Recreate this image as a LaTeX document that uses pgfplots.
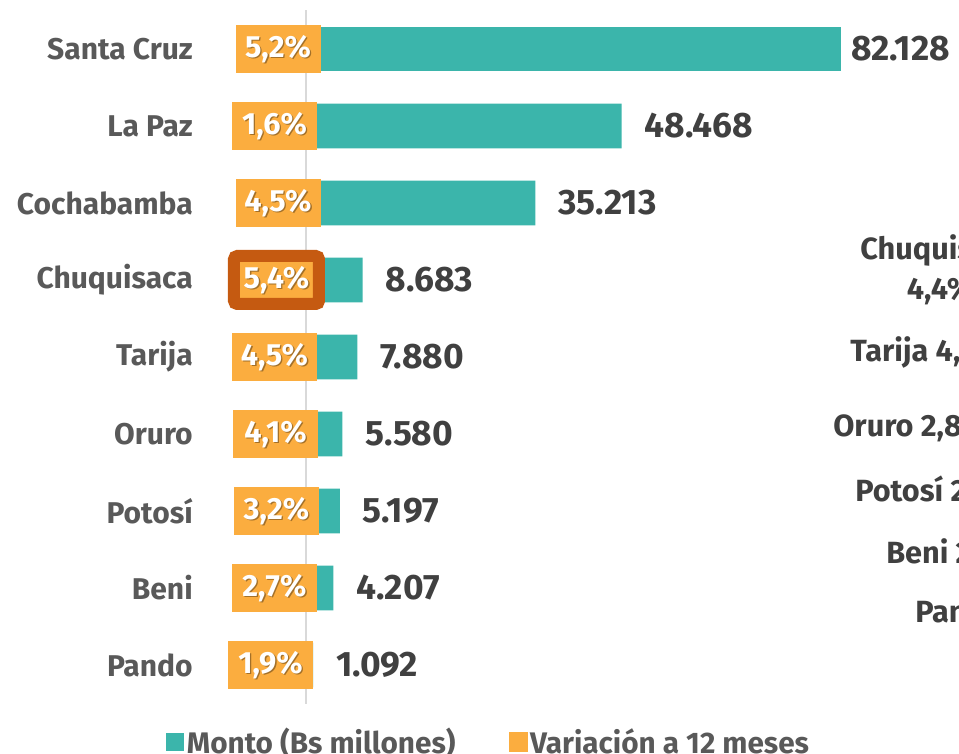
\documentclass[border=0pt]{standalone}
\usepackage{fontspec}
\setmainfont{Fira Sans}
\usepackage{pgfplots}
\pgfplotsset{compat=1.18}
\definecolor{teal1}{HTML}{3BB5AB}
\definecolor{orng}{HTML}{FBAD3F}
\definecolor{dorng}{HTML}{C55A11}
\definecolor{valtxt}{HTML}{404040}
\definecolor{cattxt}{HTML}{595959}
\definecolor{gridc}{HTML}{D9D9D9}
\pgfplotstableread{
v y l
1092 0 1.092
4207 1 4.207
5197 2 5.197
5580 3 5.580
7880 4 7.880
8683 5 8.683
35213 6 35.213
48468 7 48.468
}\montoA
\pgfplotstableread{
v y l
82128 8 82.128
}\montoB
\pgfplotstableread{
x y l
-5450 0 1,9\%
-4836 1 2,7\%
-4529 2 3,2\%
-4682 3 4,1\%
-4836 4 4,5\%
-4529 5 5,4\%
-4298 6 4,5\%
-4836 7 1,6\%
-4298 8 5,2\%
}\varia
\pgfplotstableread{
x y l
-4529 5 5,4\%
}\variaC
\begin{document}
\begin{tikzpicture}
\begin{axis}[
 at={(171.75pt,37.125pt)}, anchor=south west,
 scale only axis, width=503.25pt, height=519.75pt,
 xmin=-11820, xmax=91185, ymin=-0.5, ymax=8.5,
 clip=false, scaled x ticks=false,
 axis line style={draw=none},
 major tick length=0pt,
 xtick={0}, xticklabels={}, xmajorgrids, grid style={gridc, line width=1.5pt},
 ytick={0,...,8},
 yticklabels={Pando,Beni,Potosí,Oruro,Tarija,Chuquisaca,Cochabamba,La Paz,Santa Cruz},
 yticklabel style={font=\bfseries\fontsize{22.5}{27}\selectfont, text=cattxt, anchor=east, inner sep=0pt, xshift=-27pt},
 legend style={at={(0.3875,-0.0556)}, anchor=center, draw=none, fill=none,
   legend columns=2, font=\bfseries\fontsize{22.3}{26}\selectfont, text=cattxt,
   /tikz/every even column/.append style={column sep=38pt}, inner sep=0pt},
]
\addplot[xbar, bar width=0.584, bar shift=0pt, fill=teal1, draw=none,
 nodes near coords, point meta=explicit symbolic,
 nodes near coords style={anchor=west, inner sep=0pt, xshift=17pt, font=\bfseries\fontsize{26.5}{31}\selectfont, text=valtxt},
 legend image code/.code={\fill[teal1] (-3.5pt,-7pt) rectangle (10pt,7pt);}]
 table[x=v,y=y,meta=l]{\montoA};
\addlegendentry{Monto (Bs millones)}
\addplot[forget plot, xbar, bar width=0.584, bar shift=0pt, fill=teal1, draw=none,
 nodes near coords, point meta=explicit symbolic,
 nodes near coords style={anchor=west, inner sep=0pt, xshift=7.5pt, font=\bfseries\fontsize{26.5}{31}\selectfont, text=valtxt}]
 table[x=v,y=y,meta=l]{\montoB};
\addplot[only marks, mark=*, mark size=0pt, mark options={draw=none,fill=none},
 nodes near coords, point meta=explicit symbolic,
 nodes near coords style={anchor=center, fill=orng, minimum width=63.75pt, minimum height=36pt, inner sep=0pt, text opacity=0, font=\bfseries\fontsize{23}{27}\selectfont},
 legend image code/.code={\fill[orng] (-3.5pt,-7pt) rectangle (10pt,7pt);}]
 table[x=x,y=y,meta=l]{\varia};
\addlegendentry{Variación a 12 meses}
\addplot[forget plot, only marks, mark=*, mark size=0pt, mark options={draw=none,fill=none},
 nodes near coords, point meta=explicit symbolic,
 nodes near coords style={anchor=center, fill=orng, draw=dorng, line width=9pt, rounded corners=2.5pt, minimum width=63.75pt, minimum height=36pt, inner sep=0pt, text opacity=0, font=\bfseries\fontsize{23}{27}\selectfont}]
 table[x=x,y=y,meta=l]{\variaC};
\addplot[forget plot, only marks, mark=*, mark size=0pt, mark options={draw=none,fill=none},
 nodes near coords, point meta=explicit symbolic,
 nodes near coords style={anchor=center, inner sep=0pt, text=black, text opacity=0.35, xshift=1pt, yshift=-1pt, font=\bfseries\fontsize{23}{27}\selectfont}]
 table[x=x,y=y,meta=l]{\varia};
\addplot[forget plot, only marks, mark=*, mark size=0pt, mark options={draw=none,fill=none},
 nodes near coords, point meta=explicit symbolic,
 nodes near coords style={anchor=center, inner sep=0pt, text=white, font=\bfseries\fontsize{23}{27}\selectfont}]
 table[x=x,y=y,meta=l]{\varia};
\end{axis}
\begin{scope}[x=0.75pt, y=0.75pt, every node/.style={inner sep=0pt, text=valtxt, font=\bfseries\fontsize{23}{30}\selectfont}]
\node[anchor=west, align=center] at (860,483) {Chuquisaca\\4,4\%};
\node[anchor=west] at (850,401) {Tarija 4,4\%};
\node[anchor=west] at (833,325) {Oruro 2,8\%};
\node[anchor=west] at (855,262) {Potosí 2,3\%};
\node[anchor=west] at (886,199) {Beni 2,1\%};
\node[anchor=west] at (915,139) {Pando 1,5\%};
\pgfresetboundingbox
\useasboundingbox (0,0) rectangle (959,753);
\end{scope}
\end{tikzpicture}
\end{document}
